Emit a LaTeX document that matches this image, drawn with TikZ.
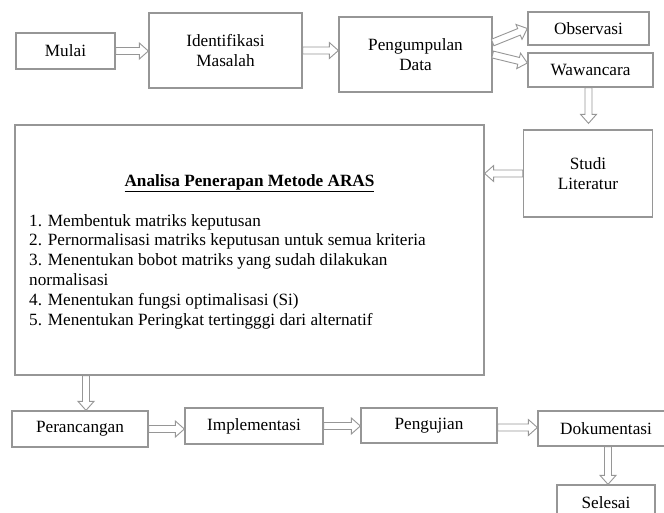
\documentclass[tikz,border=0pt]{standalone}
\usepackage{fontspec}
\setmainfont{Liberation Serif}
\usetikzlibrary{calc}
\definecolor{linegray}{RGB}{150,150,150}

\begin{document}
\begin{tikzpicture}[x=1pt, y=-1pt, font=\fontsize{17.2}{19.8}\selectfont,
    box/.style = {draw=linegray, line width=1.3pt, inner sep=0pt, align=center},
    blockarrow/.style = {draw=linegray, fill=white, line width=0.9pt,
        to path={let \p1=(\tikztostart), \p2=(\tikztotarget),
            \n1={atan2(\y2-\y1,\x2-\x1)}, \n2={veclen(\x2-\x1,\y2-\y1)} in
            {[shift={(\p1)}, rotate=\n1]
            (0,-3.5pt) -- ({\n2-9},-3.5pt) -- ({\n2-9},-8pt) -- (\n2,0pt)
            -- ({\n2-9},8pt) -- ({\n2-9},3.5pt) -- (0,3.5pt) -- cycle}}}]

    \useasboundingbox (0,0) rectangle (664,512);

    \node[box, minimum width=99pt, minimum height=36pt] (mulai) at (65.5,51) {Mulai};
    \node[box, minimum width=153pt, minimum height=75pt] (identifikasi) at (225.5,50.5) {Identifikasi\\Masalah};
    \node[box, minimum width=153pt, minimum height=75pt] (pengumpulan) at (415.5,54.5) {Pengumpulan\\Data};
    \node[box, minimum width=121pt, minimum height=33pt] (observasi) at (588.5,28.5) {Observasi};
    \node[box, minimum width=125pt, minimum height=34pt] (wawancara) at (590.5,70) {Wawancara};
    \node[box, minimum width=129pt, minimum height=87pt] (studi) at (588,173.5) {Studi\\Literatur};

    \node[box, minimum width=469pt, minimum height=250pt] (analisa) at (249.5,250) {};
    \node[anchor=base] (judul) at (249.5,186) {\bfseries\underline{Analisa Penerapan Metode ARAS}};
    \node[anchor=north west, align=left, inner sep=0pt] (langkah) at (29,214)
        {1. Membentuk matriks keputusan\\
         2. Pernormalisasi matriks keputusan untuk semua kriteria\\
         3. Menentukan bobot matriks yang sudah dilakukan\\
         normalisasi\\
         4. Menentukan fungsi optimalisasi (Si)\\
         5. Menentukan Peringkat tertingggi dari alternatif};

    \node[box, minimum width=136pt, minimum height=36pt] (perancangan) at (80,429) {Perancangan};
    \node[box, minimum width=138pt, minimum height=36pt] (implementasi) at (254,426) {Implementasi};
    \node[box, minimum width=136pt, minimum height=35pt] (pengujian) at (429,425.5) {Pengujian};
    \node[box, minimum width=136pt, minimum height=35pt] (dokumentasi) at (606,428.5) {Dokumentasi};
    \node[box, minimum width=98pt, minimum height=36pt] (selesai) at (606,503) {Selesai};

    \draw[blockarrow] (mulai.east) to (mulai.east -| identifikasi.west);
    \draw[blockarrow] (identifikasi.east) to (identifikasi.east -| pengumpulan.west);
    \draw[blockarrow] ([yshift=12pt]pengumpulan.east) to (observasi.west);
    \draw[blockarrow] (pengumpulan.east) to ([yshift=7pt]wawancara.west);
    \draw[blockarrow] ([xshift=-2pt]wawancara.south) to ([xshift=-2pt,yshift=6pt]wawancara.south |- studi.north);
    \draw[blockarrow] (studi.west) to (studi.west -| analisa.east);
    \draw[blockarrow] ([xshift=6pt]perancangan.north |- analisa.south) to ([xshift=6pt]perancangan.north);
    \draw[blockarrow] (perancangan.east) to (perancangan.east -| implementasi.west);
    \draw[blockarrow] (implementasi.east) to (implementasi.east -| pengujian.west);
    \draw[blockarrow] ([yshift=-2pt]pengujian.east) to ([yshift=-2pt]pengujian.east -| dokumentasi.west);
    \draw[blockarrow] ([xshift=2pt]dokumentasi.south) to ([xshift=2pt]dokumentasi.south |- selesai.north);

\end{tikzpicture}
\end{document}
